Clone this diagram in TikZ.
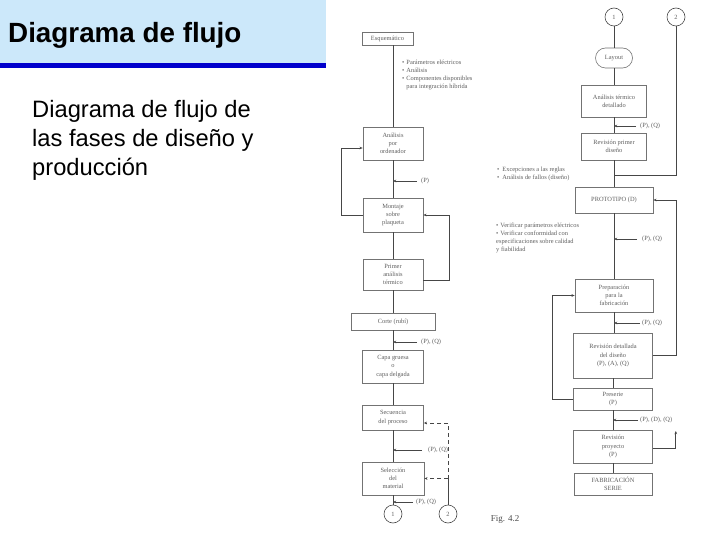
\documentclass[tikz,border=0pt]{standalone}
\usepackage{fontspec}
\setmainfont{Liberation Sans}
\newfontfamily\flowfam{Liberation Serif}
\newcommand\flowfont{\flowfam\fontsize{6.4}{8.3}\selectfont}
\usetikzlibrary{arrows.meta}
\definecolor{headbg}{RGB}{204,232,250}
\definecolor{headline}{RGB}{0,0,204}
\definecolor{scanline}{RGB}{70,70,70}
\definecolor{scanbox}{RGB}{115,115,115}
\definecolor{scantext}{RGB}{95,95,95}
\tikzset{
  box/.style={draw=scanbox, line width=0.6pt, inner sep=0pt, align=center, font=\flowfont, text=scantext},
  wire/.style={draw=scanline, line width=0.8pt},
  arr/.style={wire, -{Stealth[length=3.2pt,width=2.6pt]}},
  lbl/.style={font=\flowfont, text=scantext, inner sep=0pt, anchor=west},
  circ/.style={draw=scanline, line width=0.6pt, circle, minimum size=18pt, inner sep=0pt, font=\flowfont, text=scantext},
  blt/.style={font=\flowfont, text=scantext, align=left, inner sep=0pt, anchor=north west},
}
\begin{document}
\begin{tikzpicture}[x=1pt,y=-1pt]
\path[use as bounding box, fill=white] (0,0) rectangle (720,540);
% header
\fill[headbg] (0,0) rectangle (326,63);
\fill[headline] (0,63) rectangle (326,68);
\node[anchor=base west, inner sep=0pt, font=\fontsize{27.8}{33}\selectfont\bfseries] (title) at (8,43) {Diagrama de flujo};
\node[anchor=base west, inner sep=0pt, font=\fontsize{23.7}{28.8}\selectfont] (body1) at (32,118) {Diagrama de flujo de};
\node[anchor=base west, inner sep=0pt, font=\fontsize{23.7}{28.8}\selectfont] (body2) at (32,147) {las fases de diseño y};
\node[anchor=base west, inner sep=0pt, font=\fontsize{23.7}{28.8}\selectfont] (body3) at (32,176) {producción};

% ---------- left column ----------
\node[box, minimum width=51pt, minimum height=13pt] (esq) at (387.5,38.5) {Esquemático};
\node[box, minimum width=60pt, minimum height=33pt] (ana) at (393,143.5) {Análisis\\por\\ordenador};
\node[box, minimum width=60pt, minimum height=34pt] (mon) at (393,215) {Montaje\\sobre\\plaqueta};
\node[box, minimum width=60pt, minimum height=31pt] (pri) at (393,274.5) {Primer\\análisis\\térmico};
\node[box, minimum width=84pt, minimum height=17pt] (cor) at (393,321.5) {Corte (rubí)};
\node[box, minimum width=61pt, minimum height=33pt] (cap) at (393,366.5) {Capa gruesa\\o\\capa delgada};
\node[box, minimum width=61pt, minimum height=25pt] (sec) at (393,417.5) {Secuencia\\del proceso};
\node[box, minimum width=62pt, minimum height=33pt] (sel) at (393,478.5) {Selección\\del\\material};
\node[circ] (c1L) at (393,514) {1};
\node[circ] (c2L) at (448,514) {2};

\node[blt] (bl1) at (402,58) {\begin{tabular}{@{}l@{\hspace{2pt}}l@{}}\textbullet & Parámetros eléctricos\\ \textbullet & Análisis\\ \textbullet & Componentes disponibles\\ & para integración híbrida\end{tabular}};

\draw[wire] (ana.north) -- (ana.north |- esq.south);
\draw[wire] (ana) -- (mon);
\draw[wire] (mon) -- (pri);
\draw[wire] (pri) -- (cor);
\draw[wire] (cor) -- (cap);
\draw[wire] (cap) -- (sec);
\draw[wire] (sec) -- (sel);
\draw[wire] (sel) -- (c1L);

\node[lbl] (lP1) at (421,181) {(P)};
\draw[arr] ([xshift=-4pt]lP1.west) -- (lP1.west -| ana.south);
\node[lbl] (lP2) at (421,342) {(P), (Q)};
\draw[arr] ([xshift=-4pt]lP2.west) -- (lP2.west -| cor.south);
\node[lbl] (lP3) at (428,450) {(P), (Q)};
\draw[arr] ([xshift=-6pt]lP3.west) -- (lP3.west -| sec.south);
\node[lbl] (lP4) at (416,502) {(P), (Q)};
\draw[arr] ([xshift=-3pt]lP4.west) -- (lP4.west -| sel.south);

\draw[arr] (mon.west) -- ++(-21,0) |- ([yshift=-4.5pt]ana.west);
\draw[arr] ([yshift=-5.5pt]pri.east) -- ++(26,0) |- (mon.east);

\coordinate (j2) at (c2L.north |- sel.east);
\coordinate (j1) at (c2L.north |- 0,423);
\draw[wire] (c2L.north) -- (j2);
\draw[wire, dashed, dash pattern=on 4pt off 3pt] (j2) -- (j1);
\draw[arr, dashed, dash pattern=on 4pt off 3pt] (j2) -- (sel.east);
\draw[arr, dashed, dash pattern=on 4pt off 3pt] (j1) -- (j1 -| sec.east);

\node[anchor=center, inner sep=0pt, font=\flowfam\fontsize{9}{10}\selectfont, text=black!70] (fig) at (505,519) {Fig. 4.2};

% ---------- right column ----------
\node[circ] (c1R) at (614,17) {1};
\node[circ] (c2R) at (676,17) {2};
\node[box, minimum width=37pt, minimum height=20pt, rounded corners=10pt] (lay) at (614,58) {Layout};
\node[box, minimum width=65pt, minimum height=32pt] (atd) at (614,101) {Análisis térmico\\detallado};
\node[box, minimum width=65pt, minimum height=27pt] (rpd) at (614,146.5) {Revisión primer\\diseño};
\node[box, minimum width=78pt, minimum height=26pt] (pro) at (614,200) {PROTOTIPO (D)};
\node[box, minimum width=78pt, minimum height=33pt] (pre) at (614,295.5) {Preparación\\para la\\fabricación};
\node[box, minimum width=79pt, minimum height=45pt] (rdd) at (613,355.5) {Revisión detallada\\del diseño\\(P), (A), (Q)};
\node[box, minimum width=79pt, minimum height=22pt] (pse) at (613,399) {Preserie\\(P)};
\node[box, minimum width=79pt, minimum height=33pt] (rpy) at (613,446.5) {Revisión\\proyecto\\(P)};
\node[box, minimum width=78pt, minimum height=22pt] (fab) at (613,484) {FABRICACIÓN\\SERIE};

\node[blt] (bl2) at (497,165) {\begin{tabular}{@{}l@{\hspace{3pt}}l@{}}\textbullet & Excepciones a las reglas\\ \textbullet & Análisis de fallos (diseño)\end{tabular}};
\node[blt] (bl3) at (496,221) {\begin{tabular}{@{}l@{\hspace{2pt}}l@{}}\textbullet & Verificar parámetros eléctricos\\ \textbullet & Verificar conformidad con\\ \multicolumn{2}{@{}l@{}}{especificaciones sobre calidad}\\ \multicolumn{2}{@{}l@{}}{y fiabilidad}\end{tabular}};

\coordinate (m175) at (614,175);
\draw[wire] (c1R) -- (lay);
\draw[wire] (lay) -- (atd);
\draw[wire] (atd) -- (rpd);
\draw[wire] (rpd.south) -- (pro.north);
\draw[wire] (c2R.south) |- (m175);
\draw[wire] (pro.south) -- (pre.north);
\draw[wire] (pre.south) -- (pre.south |- rdd.north);
\draw[wire] (rdd.south) -- (rdd.south |- pse.north);
\draw[wire] (pse.south) -- (pse.south |- rpy.north);
\draw[wire] (rpy.south) -- (rpy.south |- fab.north);

\node[lbl] (lR1) at (640,126) {(P), (Q)};
\draw[arr] ([xshift=-4pt]lR1.west) -- (lR1.west -| atd.south);
\node[lbl] (lR2) at (642,239) {(P), (Q)};
\draw[arr] ([xshift=-5pt]lR2.west) -- (lR2.west -| pro.south);
\node[lbl] (lR3) at (642,323) {(P), (Q)};
\draw[arr] ([xshift=-2pt]lR3.west) -- (lR3.west -| pre.south);
\node[lbl] (lR4) at (640,420) {(P), (D), (Q)};
\draw[arr] ([xshift=-2pt]lR4.west) -- (lR4.west -| pse.south);

\draw[arr] (rdd.east) -- ++(24,0) |- (pro.east);
\draw[arr] (pse.west) -- ++(-21,0) |- (pre.west);
\draw[arr] ([yshift=-1.5pt]rpy.east) -- ++(23,0) -- ++(0,-17);
\end{tikzpicture}
\end{document}
